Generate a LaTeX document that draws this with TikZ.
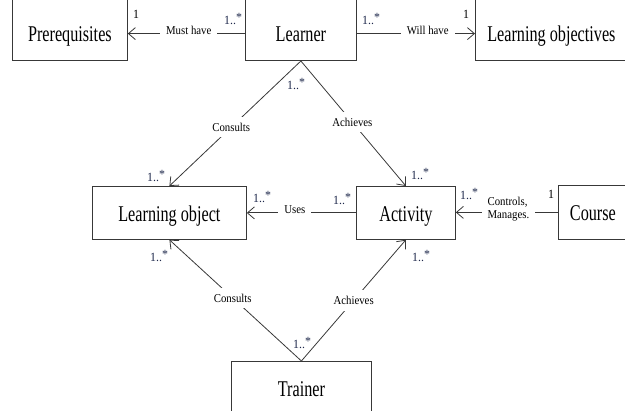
\documentclass[tikz,border=0pt]{standalone}
\usepackage{fontspec}
\setmainfont{Liberation Serif}
\newfontfamily\boxfont[FakeStretch=0.72]{Liberation Serif}
\newfontfamily\lblfont[FakeStretch=0.9]{Liberation Serif}
\newfontfamily\multfont[FakeStretch=0.95]{Liberation Serif}
\usetikzlibrary{arrows.meta}
\definecolor{ink}{gray}{0.22}
\definecolor{multcol}{RGB}{30,40,75}
\newcommand{\many}{1..\raisebox{3pt}{*}}

\begin{document}
\begin{tikzpicture}[x=1pt,y=-1pt,
  entity/.style={draw=ink, line width=0.8pt, inner sep=0pt,
    font=\boxfont\fontsize{22.5}{24}\selectfont},
  topentity/.style={entity, text height=81pt, text depth=19pt, anchor=south west},
  midentity/.style={entity, text height=35pt, text depth=18pt, anchor=north west},
  assoc/.style={draw=ink, line width=0.8pt},
  nav/.style={assoc, -{Straight Barb[length=7pt,width=12pt]}},
  verb/.style={fill=white, inner xsep=6pt, inner ysep=6pt,
    font=\lblfont\fontsize{12}{13.5}\selectfont},
  mult/.style={inner sep=0pt, anchor=base west, text=multcol,
    font=\multfont\fontsize{12.5}{13}\selectfont},
  one/.style={mult, text=black}]

\useasboundingbox (0,0) rectangle (625,411);

% classes
\node[topentity, minimum width=115pt] (pre) at (12,61) {Prerequisites};
\node[topentity, minimum width=111pt] (lrn) at (245,61) {Learner};
\node[topentity, minimum width=152pt] (obj) at (475,61) {Learning objectives};
\node[midentity, minimum width=154pt] (lo)  at (92,186) {Learning object};
\node[midentity, minimum width=99pt]  (act) at (356,186) {Activity};
\node[entity, minimum width=69pt, text height=35pt, text depth=19pt,
      anchor=north west] (crs) at (558,185) {Course};
\node[entity, minimum width=140pt, text height=35.5pt, text depth=60pt,
      anchor=north west] (trn) at (231,361) {Trainer};

% level of the top row of associations
\coordinate (rowtop) at ([yshift=8pt]lrn.base west);

% associations
\draw[nav] (rowtop) -- (rowtop -| pre.east)
  node[verb, pos=0.48, yshift=3pt, inner ysep=3pt] (vmust) {Must have};
\draw[nav] (lrn.east |- rowtop) -- (obj.west |- rowtop)
  node[verb, pos=0.6, yshift=3pt, inner ysep=3pt] (vwill) {Will have};
\draw[nav] (act.west) -- (lo.east)
  node[verb, pos=0.56, yshift=3pt, inner ysep=3pt] (vuses) {Uses};
\draw[nav] (crs.west) -- (crs.west -| act.east)
  node[verb, pos=0.485, yshift=3.5pt, inner ysep=3pt, align=left] (vctrl) {Controls,\\Manages.};
\draw[nav] (lrn.south) -- (lo.north)
  node[verb, pos=0.53, inner xsep=2pt] (vcons1) {Consults};
\draw[nav] (lrn.south) -- (act.north)
  node[verb, pos=0.49, inner xsep=2pt] (vach1) {Achieves};
\draw[nav] (trn.north) -- (lo.south)
  node[verb, pos=0.52, inner xsep=2pt] (vcons2) {Consults};
\draw[nav] (trn.north) -- (act.south)
  node[verb, pos=0.5, inner xsep=2pt] (vach2) {Achieves};

% multiplicities
\node[one]  (m1)  at (133,19)    {1};
\node[mult] (m2)  at (224,25)    {\many};
\node[mult] (m3)  at (362,25)    {\many};
\node[one]  (m4)  at (463,18.5)  {1};
\node[mult] (m5)  at (287,90)    {\many};
\node[mult] (m6)  at (147,181.5) {\many};
\node[mult] (m7)  at (411,179.5) {\many};
\node[mult] (m8)  at (253,203)   {\many};
\node[mult] (m9)  at (333,205)   {\many};
\node[mult] (m10) at (460,200)   {\many};
\node[one]  (m11) at (548,198.5) {1};
\node[mult] (m12) at (150,261.5) {\many};
\node[mult] (m13) at (412,261.5) {\many};
\node[mult] (m14) at (293,348.5) {\many};
\end{tikzpicture}
\end{document}
